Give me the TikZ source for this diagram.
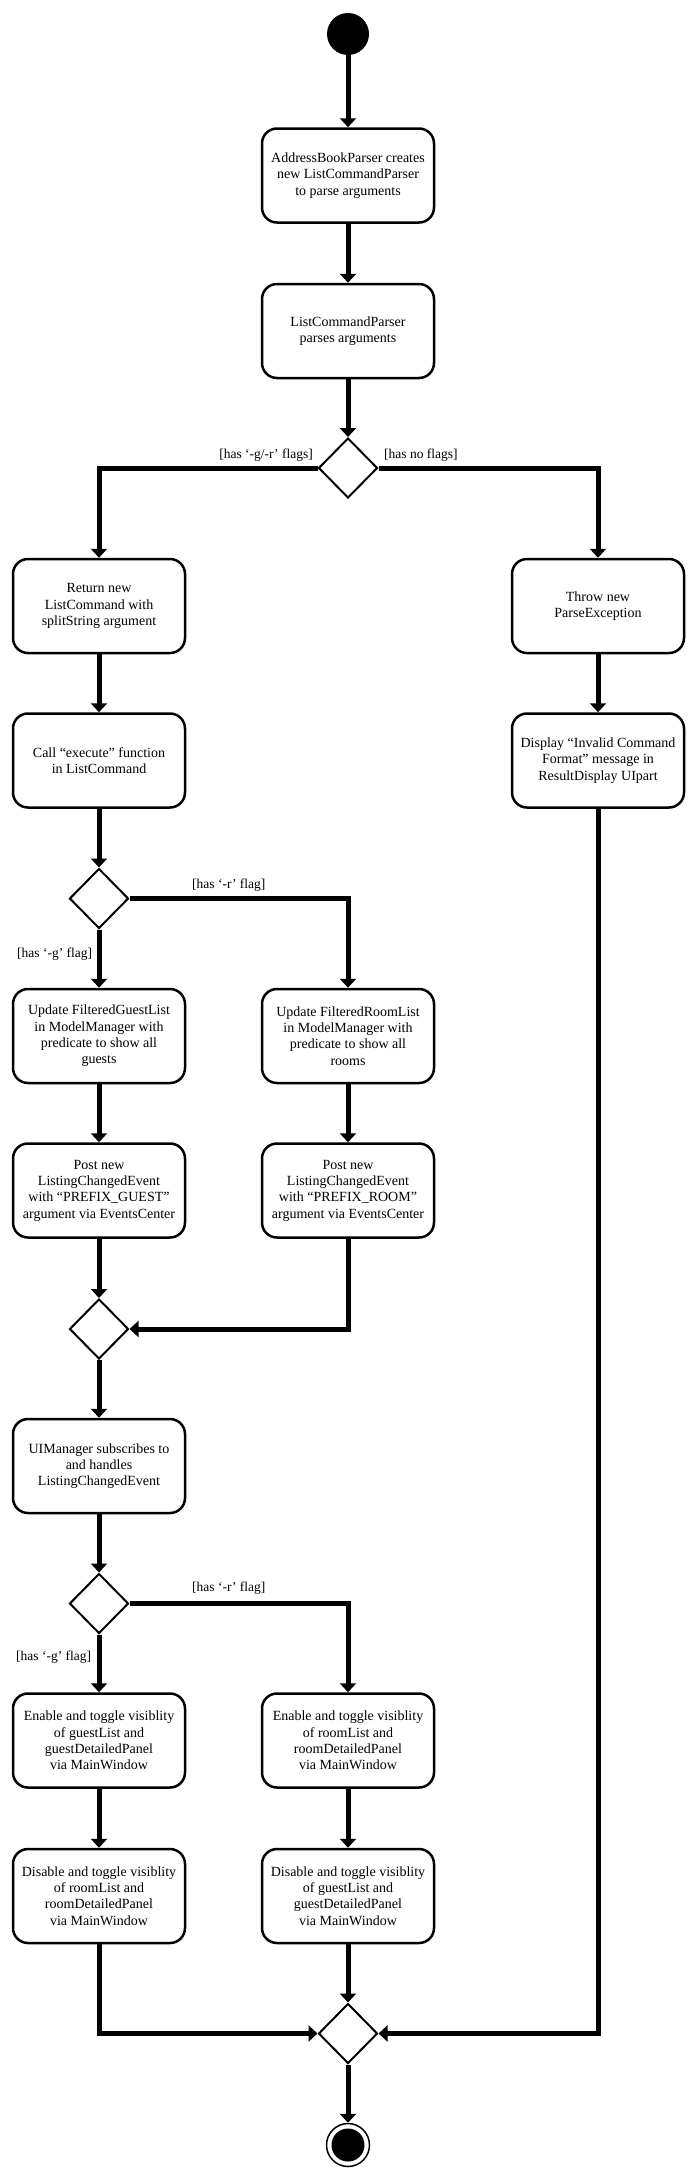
\documentclass[tikz,border=0pt]{standalone}
\usepackage{fontspec}
\setmainfont{Liberation Serif}
\usetikzlibrary{shapes.geometric,arrows.meta}
\begin{document}
\begin{tikzpicture}[x=1pt,y=-1pt,
  act/.style={draw, line width=2.5pt, rounded corners=15pt, minimum width=172pt, minimum height=94pt, align=center, inner sep=2pt, font=\fontsize{14}{16.3}\selectfont},
  dec/.style={draw, diamond, line width=2pt, minimum width=59pt, minimum height=60pt, inner sep=0pt},
  flow/.style={line width=5pt, -{Triangle[width=16pt,length=9pt]}},
  plainflow/.style={line width=5pt},
  guard/.style={inner sep=0pt, font=\fontsize{13.5}{15}\selectfont}]
\useasboundingbox (0,0) rectangle (695,2179);
% nodes
\node[circle, fill, minimum size=42pt, inner sep=0pt] (start) at (348,34) {};
\node[act] (b1) at (348,175.5) {AddressBookParser creates\\new ListCommandParser\\to parse arguments};
\node[act] (b2) at (348,331) {ListCommandParser\\parses arguments};
\node[dec] (d1) at (348,468) {};
\node[act] (b3) at (99,606) {Return new\\ListCommand with\\splitString argument};
\node[act] (thr) at (598,606) {Throw new\\ParseException};
\node[act] (b4) at (99,760.5) {Call “execute” function\\in ListCommand};
\node[act] (disp) at (598,760.5) {Display “Invalid Command\\Format” message in\\ResultDisplay UIpart};
\node[dec] (d2) at (99,898.5) {};
\node[act] (b5) at (99,1036) {Update FilteredGuestList\\in ModelManager with\\predicate to show all\\guests};
\node[act] (b6) at (348,1036) {Update FilteredRoomList\\in ModelManager with\\predicate to show all\\rooms};
\node[act] (b7) at (99,1190.5) {Post new\\ListingChangedEvent\\with “PREFIX\_GUEST”\\argument via EventsCenter};
\node[act] (b8) at (348,1190.5) {Post new\\ListingChangedEvent\\with “PREFIX\_ROOM”\\argument via EventsCenter};
\node[dec] (d3) at (99,1329) {};
\node[act] (b9) at (99,1466) {UIManager subscribes to\\and handles\\ListingChangedEvent};
\node[dec] (d4) at (99,1603.5) {};
\node[act] (b10) at (99,1740.5) {Enable and toggle visiblity\\of guestList and\\guestDetailedPanel\\via MainWindow};
\node[act] (b11) at (348,1740.5) {Enable and toggle visiblity\\of roomList and\\roomDetailedPanel\\via MainWindow};
\node[act] (b12) at (99,1896) {Disable and toggle visiblity\\of roomList and\\roomDetailedPanel\\via MainWindow};
\node[act] (b13) at (348,1896) {Disable and toggle visiblity\\of guestList and\\guestDetailedPanel\\via MainWindow};
\node[dec] (d5) at (348,2033.5) {};
\node[circle, draw, line width=1.5pt, minimum size=43pt, inner sep=0pt] (endo) at (348,2145) {};
\node[circle, fill, minimum size=33pt, inner sep=0pt] (endi) at (endo.center) {};
% guards
\node[guard, anchor=east] (g1) at (313,455) {[has ‘-g/-r’ flags]};
\node[guard, anchor=west] (g2) at (384,455) {[has no flags]};
\node[guard, anchor=west] (g3) at (192,885) {[has ‘-r’ flag]};
\node[guard, anchor=west] (g4) at (17,954) {[has ‘-g’ flag]};
\node[guard, anchor=west] (g5) at (192,1588) {[has ‘-r’ flag]};
\node[guard, anchor=west] (g6) at (16,1657) {[has ‘-g’ flag]};
% connectors
\draw[flow] (start) -- (b1);
\draw[flow] (b1) -- (b2);
\draw[flow] (b2) -- (d1);
\draw[flow] (d1.west) -| (b3.north);
\draw[flow] (d1.east) -| (thr.north);
\draw[flow] (b3) -- (b4);
\draw[flow] (thr) -- (disp);
\draw[flow] (b4) -- (d2);
\draw[flow] (d2.east) -| (b6.north);
\draw[flow] (d2.south) -- (b5.north);
\draw[flow] (b5) -- (b7);
\draw[flow] (b6) -- (b8);
\draw[flow] (b7) -- (d3);
\draw[flow] (b8.south) |- (d3.east);
\draw[flow] (d3) -- (b9);
\draw[flow] (b9) -- (d4);
\draw[flow] (d4.south) -- (b10.north);
\draw[flow] (d4.east) -| (b11.north);
\draw[flow] (b10) -- (b12);
\draw[flow] (b11) -- (b13);
\draw[flow] (b12.south) |- (d5.west);
\draw[flow] (b13) -- (d5);
\draw[flow] (disp.south) |- (d5.east);
\draw[flow] (d5) -- (endo);
\end{tikzpicture}
\end{document}
